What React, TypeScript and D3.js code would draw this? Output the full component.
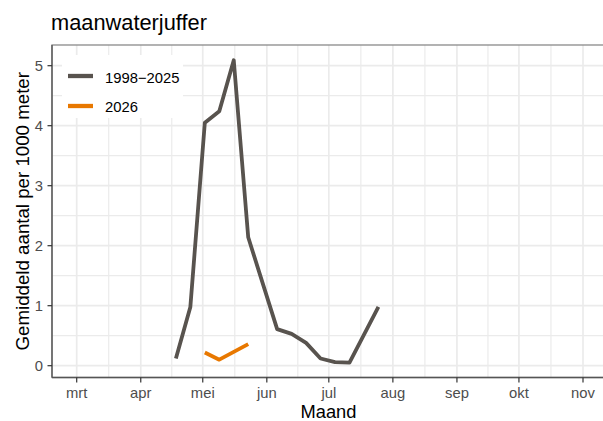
import React from "react";
import * as d3 from "d3";

const title = "maanwaterjuffer";
const yTitle = "Gemiddeld aantal per 1000 meter";
const xTitle = "Maand";

const monthTicks = ["2026-03-01", "2026-04-01", "2026-05-01", "2026-06-01", "2026-07-01", "2026-08-01", "2026-09-01", "2026-10-01", "2026-11-01"];
const monthLabels = ["mrt", "apr", "mei", "jun", "jul", "aug", "sep", "okt", "nov"];
const yTicks = [0, 1, 2, 3, 4, 5];

const histDates = ["2026-04-18", "2026-04-25", "2026-05-02", "2026-05-09", "2026-05-16", "2026-05-23", "2026-06-06", "2026-06-13", "2026-06-20", "2026-06-27", "2026-07-04", "2026-07-11", "2026-07-25"];
const histValues = [0.12, 0.98, 4.05, 4.24, 5.09, 2.14, 0.61, 0.53, 0.38, 0.12, 0.06, 0.05, 0.98];

const curDates = ["2026-05-02", "2026-05-09", "2026-05-23"];
const curValues = [0.22, 0.1, 0.36];

const seriesNames = ["1998\u22122025", "2026"];
const seriesColors = ["#58534e", "#e87800"];

const W = 603;
const H = 421;
const panel = { left: 52, right: 605, top: 45, bottom: 377.5 };
const FONT = "'Liberation Sans', Arial, sans-serif";

export default function App() {
  const parse = (s: string) => new Date(s + "T00:00:00Z");
  const ticks = monthTicks.map(parse);
  const x = d3.scaleUtc().domain([ticks[0], ticks[ticks.length - 1]]).range([76.7, 583]);
  const y = d3.scaleLinear().domain([0, 5]).range([365.7, 65.7]);

  const minorX: Date[] = [];
  const firstMinor = new Date(2 * ticks[0].getTime() - (ticks[0].getTime() + ticks[1].getTime()) / 2);
  minorX.push(firstMinor);
  for (let i = 0; i < ticks.length - 1; i++) {
    minorX.push(new Date((ticks[i].getTime() + ticks[i + 1].getTime()) / 2));
  }
  const lastT = ticks[ticks.length - 1].getTime();
  minorX.push(new Date(lastT + (lastT - (ticks[ticks.length - 2].getTime() + lastT) / 2)));
  const minorY = [-0.5, 0.5, 1.5, 2.5, 3.5, 4.5, 5.5];

  const line = d3
    .line<[Date, number]>()
    .x((d) => x(d[0]))
    .y((d) => y(d[1]));

  const hist: [Date, number][] = histDates.map((d, i) => [parse(d), histValues[i]]);
  const cur: [Date, number][] = curDates.map((d, i) => [parse(d), curValues[i]]);

  const inX = (v: number) => v >= panel.left && v <= panel.right;
  const inY = (v: number) => v >= panel.top && v <= panel.bottom;

  return (
    <svg width={W} height={H} style={{ position: "absolute", left: 0, top: 0, background: "#fff" }} fontFamily={FONT}>
      <rect x={0} y={0} width={W} height={H} fill="#fff" />
      <defs>
        <clipPath id="pclip">
          <rect x={panel.left} y={panel.top} width={panel.right - panel.left} height={panel.bottom - panel.top} />
        </clipPath>
      </defs>
      <g clipPath="url(#pclip)">
        {minorY.filter((v) => inY(y(v))).map((v) => (
          <line key={"my" + v} x1={panel.left} x2={panel.right} y1={y(v)} y2={y(v)} stroke="#ebebeb" strokeWidth={1.2} />
        ))}
        {minorX.filter((d) => inX(x(d))).map((d, i) => (
          <line key={"mx" + i} x1={x(d)} x2={x(d)} y1={panel.top} y2={panel.bottom} stroke="#ebebeb" strokeWidth={1.2} />
        ))}
        {yTicks.map((v) => (
          <line key={"gy" + v} x1={panel.left} x2={panel.right} y1={y(v)} y2={y(v)} stroke="#ebebeb" strokeWidth={1.7} />
        ))}
        {ticks.map((d, i) => (
          <line key={"gx" + i} x1={x(d)} x2={x(d)} y1={panel.top} y2={panel.bottom} stroke="#ebebeb" strokeWidth={1.7} />
        ))}
        <path d={line(hist) || ""} fill="none" stroke={seriesColors[0]} strokeWidth={3.8} strokeLinejoin="round" />
        <path d={line(cur) || ""} fill="none" stroke={seriesColors[1]} strokeWidth={3.8} strokeLinejoin="round" />
      </g>
      {/* legend */}
      <rect x={62} y={55} width={121} height={63} fill="#fff" />
      {seriesNames.map((name, i) => (
        <g key={name}>
          <line x1={68} x2={93} y1={76 + i * 30} y2={76 + i * 30} stroke={seriesColors[i]} strokeWidth={4.3} />
          <text x={105} y={82.5 + i * 29.3} fontSize={14.8} fill="#000">{name}</text>
        </g>
      ))}
      {/* panel border */}
      <rect x={panel.left} y={panel.top} width={panel.right - panel.left} height={panel.bottom - panel.top} fill="none" stroke="#8a8a8a" strokeWidth={1.3} />
      <line x1={panel.left} x2={panel.left} y1={panel.top} y2={panel.bottom} stroke="#555" strokeWidth={1.3} />
      <line x1={panel.left} x2={panel.right} y1={panel.bottom} y2={panel.bottom} stroke="#555" strokeWidth={1.3} />
      {/* y axis */}
      {yTicks.map((v) => (
        <g key={"yt" + v}>
          <line x1={47.5} x2={panel.left} y1={y(v)} y2={y(v)} stroke="#333" strokeWidth={1.2} />
          <text x={43} y={y(v)} dy="0.35em" textAnchor="end" fontSize={14.8} fill="#4d4d4d">{v}</text>
        </g>
      ))}
      {/* x axis */}
      {ticks.map((d, i) => (
        <g key={"xt" + i}>
          <line x1={x(d)} x2={x(d)} y1={panel.bottom} y2={panel.bottom + 5} stroke="#333" strokeWidth={1.2} />
          <text x={x(d)} y={398.3} textAnchor="middle" fontSize={14.8} fill="#4d4d4d">{monthLabels[i]}</text>
        </g>
      ))}
      <text x={(panel.left + panel.right) / 2} y={418.3} textAnchor="middle" fontSize={18.3} fill="#000">{xTitle}</text>
      <text transform={`translate(28.5,${(panel.top + panel.bottom) / 2}) rotate(-90)`} textAnchor="middle" fontSize={18.7} fill="#000">{yTitle}</text>
      <text x={51} y={30} fontSize={21.8} fill="#000">{title}</text>
    </svg>
  );
}
